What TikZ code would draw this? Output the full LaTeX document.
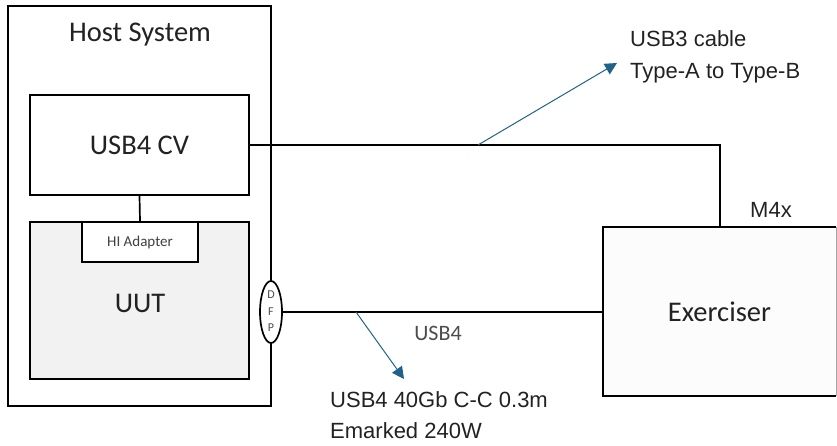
\documentclass[tikz,border=0pt]{standalone}
\usepackage{fontspec}
\setmainfont{Carlito}
\newfontfamily\aptos{Liberation Sans}
\usetikzlibrary{arrows.meta,shapes.geometric}
\definecolor{arrowblue}{HTML}{1F6389}
\definecolor{uutgray}{HTML}{F2F2F2}
\definecolor{txt}{HTML}{222222}
\tikzset{
  blk/.style={draw=black, line width=1.7pt, fill=white, inner sep=0pt, text=txt},
  bigtxt/.style={font=\fontsize{28.5}{30}\selectfont, text=txt},
  lbl/.style={font=\aptos\fontsize{22}{24}\selectfont, text=txt, inner sep=0pt, anchor=base west},
  wire/.style={line width=1.7pt, black},
  dfptxt/.style={font=\fontsize{12}{12}\selectfont, text=black!70, inner sep=0pt},
  callout/.style={draw=arrowblue, line width=1pt, -{Triangle[length=12pt,width=12pt]}}
}
\begin{document}
\begin{tikzpicture}[x=1pt,y=-1pt]
\useasboundingbox (0,0) rectangle (837,445);
% Host system
\node[blk, minimum width=263pt, minimum height=400pt] (host) at (139.5,206) {};
\node[bigtxt] (hosttxt) at (140,35) {Host System};
\node[blk, minimum width=219pt, minimum height=100pt, bigtxt] (cv) at (139.5,145) {USB4 CV};
\node[blk, fill=uutgray, minimum width=219pt, minimum height=157pt] (uut) at (139.5,300.5) {};
\node[bigtxt] (uuttxt) at (140,303) {UUT};
\node[blk, minimum width=116pt, minimum height=40pt, font=\fontsize{15}{16}\selectfont, text=black!75] (hi) at (140,242) {HI Adapter};
\draw[wire] (cv.south) -- (hi.north);
% DFP
\node[draw=black, line width=1.7pt, fill=white, ellipse, minimum width=22pt, minimum height=62pt, inner sep=0pt] (dfp) at (271,312) {};
\node[dfptxt] (d) at (271,295) {D};
\node[dfptxt] (f) at (271,312) {F};
\node[dfptxt] (p) at (271,328) {P};
% Exerciser
\node[fill=white!99!black, minimum width=233pt, minimum height=169pt, inner sep=0pt, bigtxt] (ex) at (719.5,311.5) {Exerciser};
\draw[line width=1.7pt, black] (ex.north east) -- (ex.north west) -- (ex.south west) -- (ex.south east);
\draw[line width=1pt, black!35] (ex.north east) -- (ex.south east);
% wires
\coordinate (bend) at (720,145);
\draw[wire] (cv.east) -- (bend) -- (bend |- ex.north);
\draw[wire] (dfp.east) -- (ex.west |- dfp.east);
% callouts
\coordinate (c1) at (478,145);
\coordinate (c1e) at (617,63);
\draw[callout] (c1) -- (c1e);
\coordinate (c2) at (356,312);
\coordinate (c2e) at (404,379);
\draw[callout] (c2) -- (c2e);
% labels
\node[lbl] (l1) at (630,46) {USB3 cable};
\node[lbl] (l2) at (630,78) {Type-A to Type-B};
\node[lbl] (m4x) at (750,217) {M4x};
\node[font=\fontsize{22}{24}\selectfont, text=black!70] (usb4) at (438,333) {USB4};
\node[lbl] (l3) at (330,407) {USB4 40Gb C-C 0.3m};
\node[lbl] (l4) at (330,438) {Emarked 240W};
\end{tikzpicture}
\end{document}
